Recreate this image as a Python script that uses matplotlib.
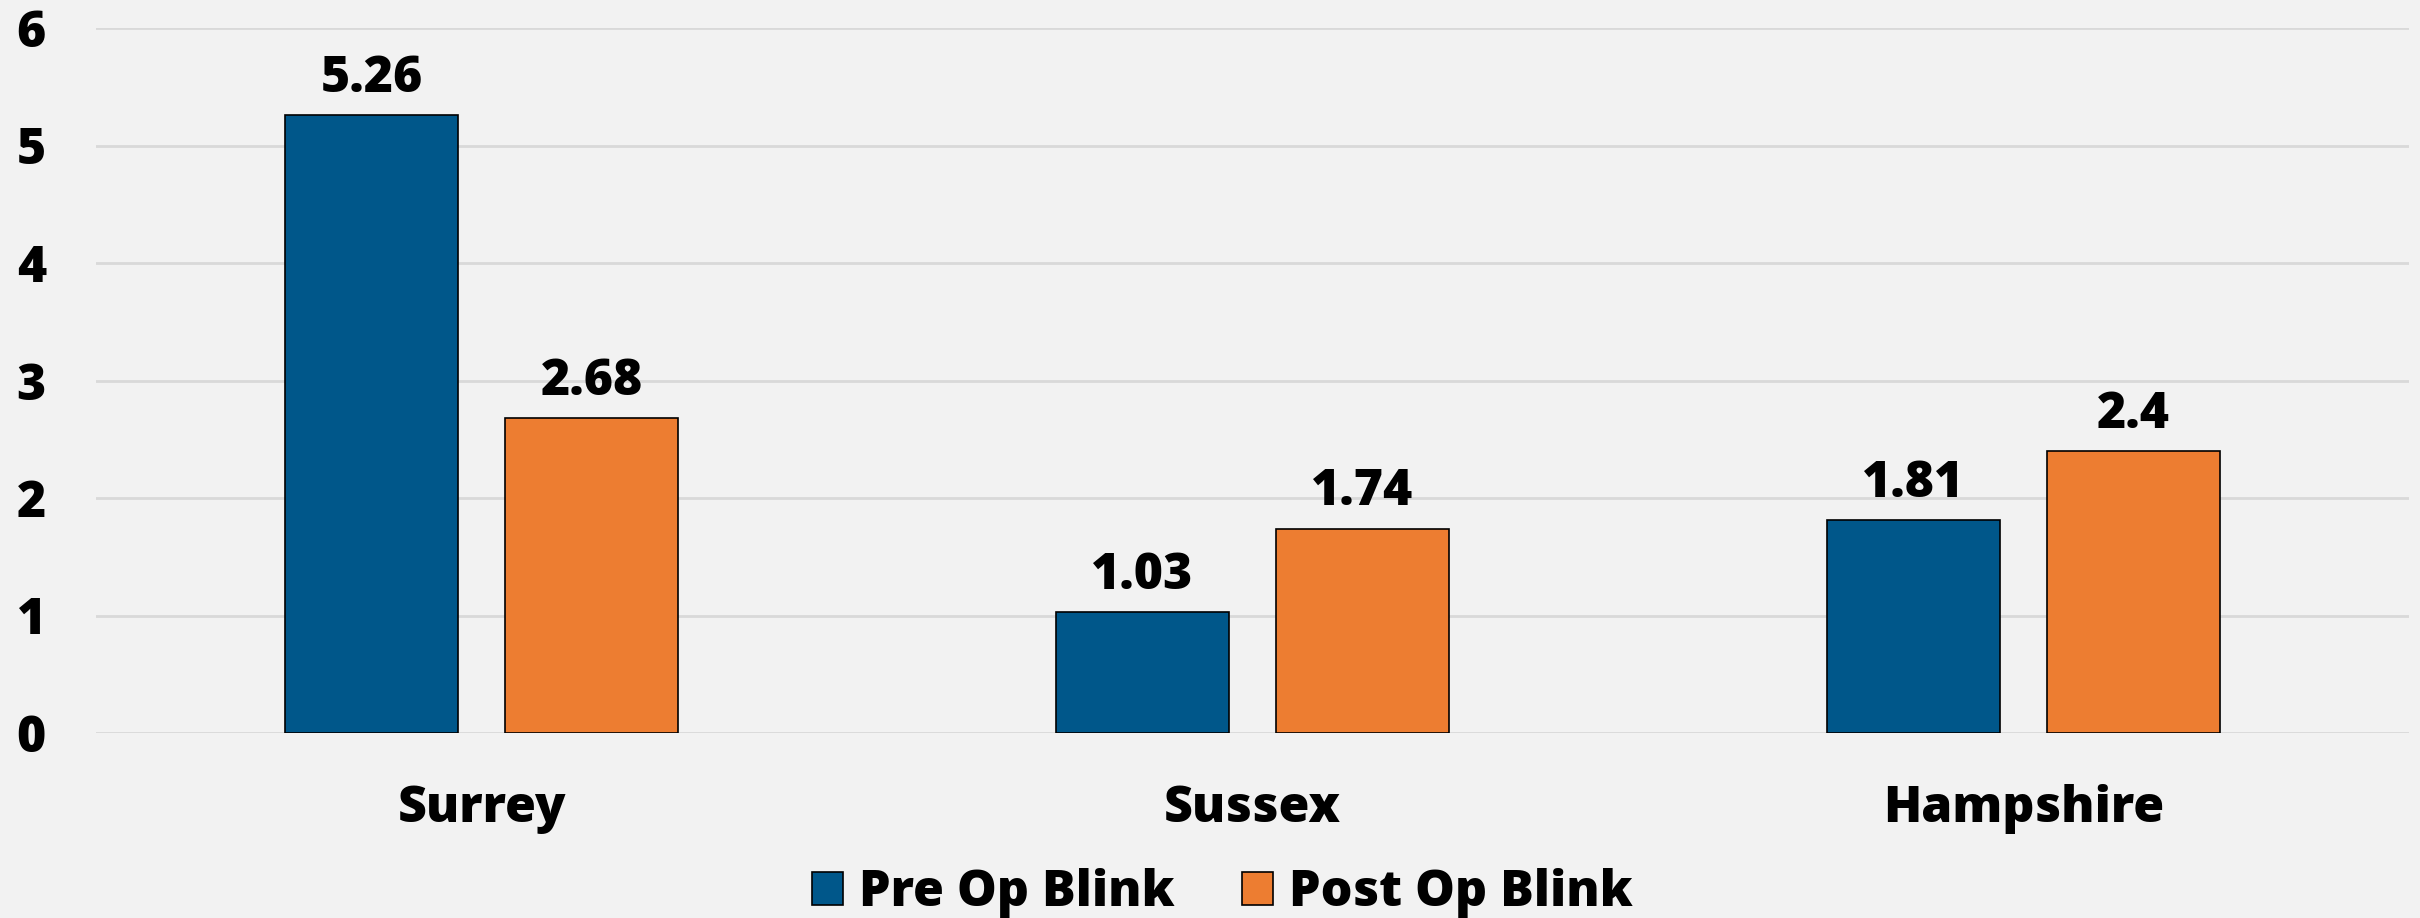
import matplotlib.pyplot as plt
import numpy as np

# data
regions = ['Surrey', 'Sussex', 'Hampshire']
pre_op = [5.26, 1.03, 1.81]
post_op = [2.68, 1.74, 2.4]
series_names = ['Pre Op Blink', 'Post Op Blink']

plt.rcParams['font.family'] = ['Open Sans', 'DejaVu Sans']
fs = 36
fw = 'black'

fig = plt.figure(figsize=(24.2, 9.18), dpi=100, facecolor='#F2F2F2')
ax = fig.add_axes([96 / 2420, 185 / 918, 2313 / 2420, 705 / 918])
ax.set_facecolor('#F2F2F2')

x = np.arange(len(regions))
width = 0.225
off = 0.1427
b1 = ax.bar(x - off, pre_op, width, color='#00578A', edgecolor='black', linewidth=1.2,
            label=series_names[0], zorder=3)
b2 = ax.bar(x + off, post_op, width, color='#ED7D31', edgecolor='black', linewidth=1.2,
            label=series_names[1], zorder=3)

for bars in (b1, b2):
    ax.bar_label(bars, labels=[f'{v:g}' for v in bars.datavalues], padding=8,
                 fontsize=fs, fontweight=fw)

ax.set_xlim(-0.5, 2.5)
ax.set_ylim(0, 6)
ax.set_yticks(range(7))
ax.yaxis.grid(True, color='#D9D9D9', linewidth=2, zorder=0)
ax.set_xticks(x)
ax.set_xticklabels(regions)
for lab in ax.get_xticklabels() + ax.get_yticklabels():
    lab.set_fontsize(fs)
    lab.set_fontweight(fw)
ax.tick_params(axis='y', length=0, pad=36)
ax.tick_params(axis='x', length=0, pad=37)
for s in ax.spines.values():
    s.set_visible(False)

fig.legend(loc='center', bbox_to_anchor=(1222 / 2420, 1 - 893 / 918), ncol=2, frameon=False,
           prop={'size': fs, 'weight': fw}, handlelength=0.62, handleheight=0.62,
           handletextpad=0.32, columnspacing=1.35)

fig.savefig('out.png', dpi=100, facecolor=fig.get_facecolor())
